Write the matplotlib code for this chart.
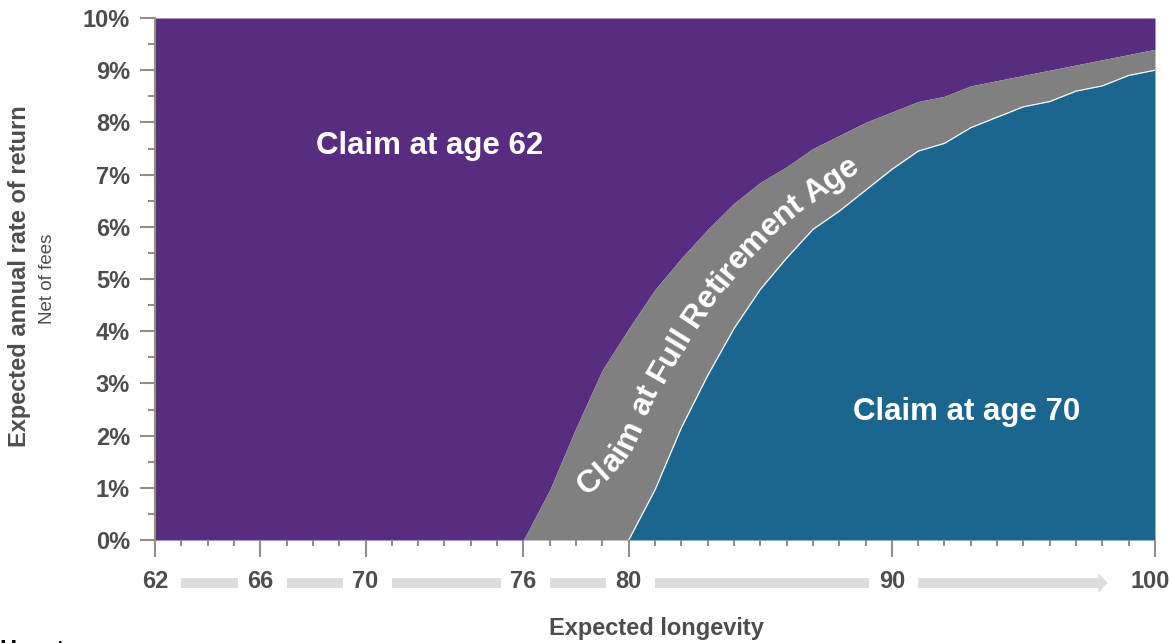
import numpy as np
import matplotlib.pyplot as plt
from matplotlib.patches import Polygon
from matplotlib.transforms import IdentityTransform, ScaledTranslation, blended_transform_factory

plt.rcParams['font.family'] = ['Liberation Sans', 'DejaVu Sans']

# expected longevity (years)
ages = list(range(62, 101))
# boundary between "claim at 62" and "claim at FRA" (% return)
upper = [0, 0, 0, 0, 0, 0, 0, 0, 0, 0, 0, 0, 0, 0, 0,
         0.96, 2.15, 3.26, 4.05, 4.8, 5.4, 5.95, 6.45, 6.85, 7.15, 7.5, 7.75,
         8.0, 8.2, 8.4, 8.5, 8.7, 8.8, 8.9, 9.0, 9.1, 9.2, 9.3, 9.4]
# boundary between "claim at FRA" and "claim at 70" (% return)
lower = [0, 0, 0, 0, 0, 0, 0, 0, 0, 0, 0, 0, 0, 0, 0, 0, 0, 0, 0,
         0.96, 2.15, 3.15, 4.05, 4.8, 5.4, 5.95, 6.3, 6.7, 7.1, 7.45, 7.6,
         7.9, 8.1, 8.3, 8.4, 8.6, 8.7, 8.9, 9.0]

x_labels = [62, 66, 70, 76, 80, 90, 100]
y_ticks = list(range(0, 11))

c_purple = '#582C80'
c_gray = '#808080'
c_teal = '#1B668E'
c_text = '#4D4D4F'
c_axis = '#968C83'
c_bar = '#DCDDDE'

fig = plt.figure(figsize=(11.72, 6.43), dpi=100)
ax = fig.add_axes([155 / 1172, 1 - 540 / 643, 1000 / 1172, 522 / 643])

ax.fill_between(ages, upper, 10, color=c_purple, lw=0)
ax.fill_between(ages, lower, upper, color=c_gray, lw=0)
ax.fill_between(ages, 0, lower, color=c_teal, lw=0)
ax.plot(ages[18:], lower[18:], color='white', lw=0.8)

ax.set_xlim(62, 100)
ax.set_ylim(0, 10)
ax.set_xticks(x_labels)
ax.set_xticklabels([str(v) for v in x_labels])
ax.set_xticks(range(62, 101), minor=True)
ax.set_yticks(y_ticks)
ax.set_yticklabels(['{}%'.format(v) for v in y_ticks])
ax.set_yticks(np.arange(0.5, 10, 1), minor=True)

for s in ['top', 'right', 'bottom']:
    ax.spines[s].set_visible(False)
ax.spines['left'].set_color(c_axis)
ax.spines['left'].set_linewidth(1.5)

ax.tick_params(axis='x', which='major', length=12.5, width=1.5, color=c_axis, pad=9,
               labelsize=17, labelcolor=c_text)
ax.tick_params(axis='x', which='minor', length=4, width=1.5, color=c_axis)
ax.tick_params(axis='y', which='major', length=11, width=1.5, color=c_axis, pad=7,
               labelsize=17, labelcolor=c_text)
ax.tick_params(axis='y', which='minor', length=5, width=1.5, color=c_axis)
for lab in ax.get_xticklabels() + ax.get_yticklabels():
    lab.set_fontweight('bold')
last = ax.get_xticklabels()[-1]
last.set_transform(last.get_transform() + ScaledTranslation(-3.5 / 72, 0, fig.dpi_scale_trans))

# grey arrow bars between the x tick labels
tr = blended_transform_factory(ax.transData, ax.transAxes)
yb, hb, hh = -0.0824, 0.0096, 0.019
for i in range(len(x_labels) - 1):
    a = x_labels[i] + 1.0
    if i < len(x_labels) - 2:
        b = x_labels[i + 1] - 0.85
        pts = [(a, yb - hb), (b, yb - hb), (b, yb + hb), (a, yb + hb)]
    else:
        b = x_labels[i + 1] - 2.15
        tip = x_labels[i + 1] - 1.8
        pts = [(a, yb - hb), (b, yb - hb), (b, yb - hh), (tip, yb),
               (b, yb + hh), (b, yb + hb), (a, yb + hb)]
    ax.add_patch(Polygon(pts, closed=True, transform=tr, color=c_bar, lw=0,
                         clip_on=False))

# region labels
ax.text(72.42, 7.4, 'Claim at age 62', color='white', fontsize=22.5, fontweight='bold',
        ha='center', va='baseline')
ax.text(92.84, 2.3, 'Claim at age 70', color='white', fontsize=22.5, fontweight='bold',
        ha='center', va='baseline')

# axis titles
fig.text(20 / 1172, 1 - 276 / 643, 'Expected annual rate of return', rotation=90,
         fontsize=17, fontweight='bold', color=c_text, ha='center', va='center')
fig.text(48 / 1172, 1 - 279 / 643, 'Net of fees', rotation=90,
         fontsize=13.5, color=c_text, ha='center', va='center')
fig.text(656 / 1172, 1 - 628 / 643, 'Expected longevity', fontsize=17,
         fontweight='bold', color=c_text, ha='center', va='center')
fig.text(0.0, -14 / 643, 'How to', fontsize=17, fontweight='bold',
         color='black', ha='left', va='baseline')

# curved label along the middle band
fig.canvas.draw()
renderer = fig.canvas.get_renderer()


def densify(p, n=700):
    seg = np.hypot(*np.diff(p, axis=0).T)
    s = np.concatenate([[0], np.cumsum(seg)])
    t = np.linspace(0, s[-1], n)
    return np.column_stack([np.interp(t, s, p[:, 0]), np.interp(t, s, p[:, 1])])


up_d = densify(ax.transData.transform(np.column_stack([ages[14:], upper[14:]])))
lo_d = densify(ax.transData.transform(np.column_stack([ages[14:], lower[14:]])))
near = ((up_d[:, None, :] - lo_d[None, :, :]) ** 2).sum(-1).argmin(axis=1)
mid = (up_d + lo_d[near]) / 2
mid = densify(mid, 700)
k = 25
mid_s = np.column_stack([np.convolve(np.pad(mid[:, j], k, mode='edge'),
                                     np.ones(2 * k + 1) / (2 * k + 1), mode='valid')
                         for j in range(2)])
seg = np.hypot(*np.diff(mid_s, axis=0).T)
arc = np.concatenate([[0], np.cumsum(seg)])

label = 'Claim at Full Retirement Age'
fs = 23


def text_w(s):
    t = fig.text(0, 0, s, fontsize=fs, fontweight='bold')
    w = t.get_window_extent(renderer).width
    t.remove()
    return w


w_l = text_w('l')
starts = [text_w(label[:i] + 'l') - w_l for i in range(len(label))] + [text_w(label)]
x0 = ax.transData.transform((78.1, 0))[0]
s0 = arc[np.argmax(mid_s[:, 0] >= x0)]
cap = fs * 100 / 72 * 0.716
for i, ch in enumerate(label):
    if ch == ' ':
        continue
    s = s0 + (starts[i] + starts[i + 1]) / 2
    px = np.interp(s, arc, mid_s[:, 0])
    py = np.interp(s, arc, mid_s[:, 1])
    dx = np.interp(s + 12, arc, mid_s[:, 0]) - np.interp(s - 12, arc, mid_s[:, 0])
    dy = np.interp(s + 12, arc, mid_s[:, 1]) - np.interp(s - 12, arc, mid_s[:, 1])
    ang = np.degrees(np.arctan2(dy, dx))
    nrm = np.array([-dy, dx]) / np.hypot(dx, dy)
    bx, by = np.array([px, py]) - nrm * cap / 2
    fig.text(bx, by, ch, transform=IdentityTransform(), rotation=ang,
             rotation_mode='anchor', ha='center', va='baseline', color='white',
             fontsize=fs, fontweight='bold')

fig.savefig('out.png', dpi=100)
